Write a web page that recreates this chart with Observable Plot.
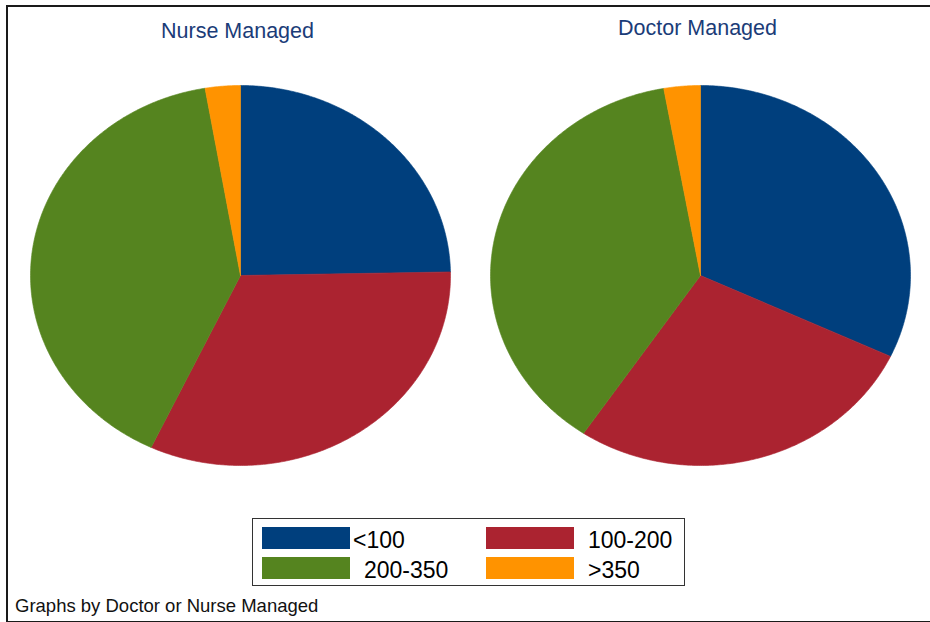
<!DOCTYPE html>
<html><head><meta charset="utf-8">
<script src="https://cdn.jsdelivr.net/npm/d3@7"></script>
<script src="https://cdn.jsdelivr.net/npm/@observablehq/plot@0.6"></script>
<style>
body{margin:0;background:#fff;overflow:hidden;font-family:"Liberation Sans",Arial,sans-serif}
#wrap{position:relative;width:930px;height:622px;overflow:hidden;background:#fff}
#frame{position:absolute;left:6px;top:5px;width:940px;height:614px;border-left:2px solid #1a1a1a;border-top:2px solid #1a1a1a;border-bottom:2px solid #1a1a1a;pointer-events:none;box-sizing:content-box}
#chart{position:absolute;left:0;top:0}
#legend{position:absolute;left:252px;top:518px;width:433px;height:68px;border:1.5px solid #333;box-sizing:border-box}
.sw{position:absolute;width:88px;height:22px}
.lt{position:absolute;font-size:23px;line-height:22px;height:22px;color:#000;white-space:nowrap}
#caption{position:absolute;left:15px;top:597px;font-size:18.5px;line-height:18px;color:#111;white-space:nowrap}
</style>
</head>
<body>
<div id="wrap">
  <div id="chart"></div>
  <div id="legend"></div>
  <div id="caption">Graphs by Doctor or Nurse Managed</div>
  <div id="frame"></div>
</div>
<script>
// ---- data ----
const panels = ["Nurse Managed", "Doctor Managed"];
const categories = ["<100", "100-200", "200-350", ">350"];
const colors = ["#003f7d", "#ab2330", "#55841f", "#ff9300"];
const nurseShares = [24.7, 32.3, 40.3, 2.7];
const doctorShares = [32.0, 27.4, 37.8, 2.8];

// ---- build slice polygons from shares ----
const sharesByPanel = {"Nurse Managed": nurseShares, "Doctor Managed": doctorShares};
const pie = d3.pie().sort(null).value(d => d.value);
const polys = [];
for (const p of panels) {
  const rows = categories.map((c, i) => ({cat: c, value: sharesByPanel[p][i]}));
  for (const a of pie(rows)) {
    const key = p + "|" + a.data.cat;
    polys.push({panel: p, cat: a.data.cat, key, x: 0, y: 0});
    const n = Math.max(2, Math.ceil((a.endAngle - a.startAngle) / (Math.PI / 360)));
    for (let k = 0; k <= n; k++) {
      const t = a.startAngle + (a.endAngle - a.startAngle) * k / n;
      polys.push({panel: p, cat: a.data.cat, key, x: Math.sin(t), y: Math.cos(t)});
    }
    polys.push({panel: p, cat: a.data.cat, key, x: 0, y: 0});
  }
}

const chart = Plot.plot({
  width: 930,
  height: 500,
  marginLeft: 30,
  marginRight: 20,
  marginTop: 85,
  marginBottom: 35,
  fx: {domain: panels, paddingInner: 40 / 460, paddingOuter: 0, axis: null},
  x: {domain: [-1, 1], axis: null},
  y: {domain: [-1, 1], axis: null},
  color: {domain: categories, range: colors},
  style: {fontFamily: "'Liberation Sans', Arial, sans-serif", background: "#fff"},
  marks: [
    Plot.line(polys, {x: "x", y: "y", fx: "panel", z: "key", fill: "cat", stroke: "cat", strokeWidth: 0.6, curve: "linear"}),
    Plot.text([panels[0]], {fx: d => d, text: d => d, frameAnchor: "top", lineAnchor: "bottom", dy: -48, dx: -3, fontSize: 21.5, fill: "#1b3c78"}),
    Plot.text([panels[1]], {fx: d => d, text: d => d, frameAnchor: "top", lineAnchor: "bottom", dy: -51, dx: -3, fontSize: 21.5, fill: "#1b3c78"})
  ]
});
document.getElementById("chart").appendChild(chart);

// ---- legend ----
const legend = document.getElementById("legend");
const swPos = [[9, 8], [233, 8], [9, 38], [233, 38]];
const txPos = [[100, 10], [335, 10], [111, 40], [335, 40]];
categories.forEach((c, i) => {
  const s = document.createElement("div");
  s.className = "sw";
  s.style.left = swPos[i][0] + "px";
  s.style.top = swPos[i][1] + "px";
  s.style.background = colors[i];
  legend.appendChild(s);
  const t = document.createElement("div");
  t.className = "lt";
  t.style.left = txPos[i][0] + "px";
  t.style.top = txPos[i][1] + "px";
  t.textContent = c;
  legend.appendChild(t);
});
</script>
</body></html>
